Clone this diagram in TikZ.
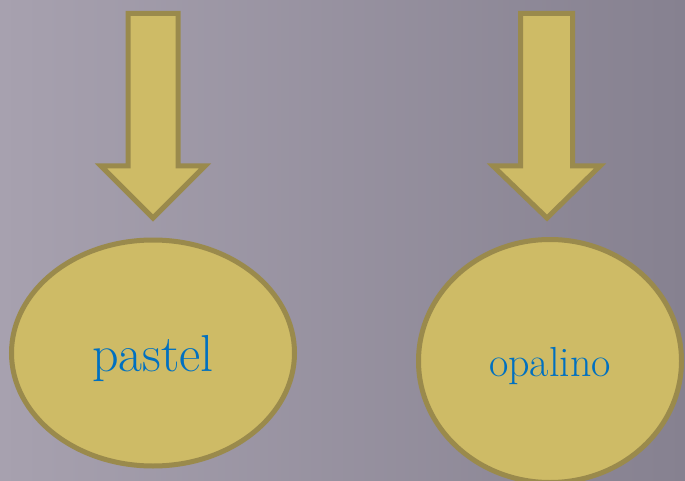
\documentclass[tikz,border=0pt]{standalone}
\usepackage{fontspec}
\usepackage{tikz}
\usetikzlibrary{shapes.geometric}

\definecolor{goldfill}{HTML}{CEBB66}
\definecolor{golddraw}{HTML}{9A8A4C}
\definecolor{wordblue}{HTML}{0070C0}
\definecolor{bgleft}{HTML}{A7A1AF}
\definecolor{bgright}{HTML}{868190}

\tikzset{
  goldshape/.style={fill=goldfill, draw=golddraw, line width=5pt, line join=miter},
  word/.style={text=wordblue, inner sep=0pt}
}

\begin{document}
\begin{tikzpicture}[x=1pt, y=-1pt]
      % Background
      \shade[left color=bgleft, right color=bgright] (0,0) rectangle (685,481);
      \useasboundingbox (0,0) rectangle (685,481);

      % Block arrows pointing down
      \foreach \n/\l/\r/\wl/\wr/\t in {1/128/178/101/205/153, 2/520.5/572.5/493/600/547} {
          \coordinate (tip\n) at (\t,218);
          \draw[goldshape] (\l,13.5) -- (\r,13.5) -- (\r,166) -- (\wr,166)
              -- (tip\n) -- (\wl,166) -- (\l,166) -- cycle;
      }

      % Ellipses
      \node[goldshape, ellipse, minimum width=283pt, minimum height=226pt] (pastel) at (153,353) {};
      \node[goldshape, ellipse, minimum width=263pt, minimum height=243pt] (opalino) at (550,361) {};

      % Words
      \node[word, font=\fontsize{52}{60}\selectfont] (pasteltext) at ([yshift=-6pt]pastel.center) {pastel};
      \node[word, font=\fontsize{42}{50}\selectfont] (opalinotext) at ([yshift=-5pt]opalino.center) {opalino};

  \end{tikzpicture}
\end{document}
